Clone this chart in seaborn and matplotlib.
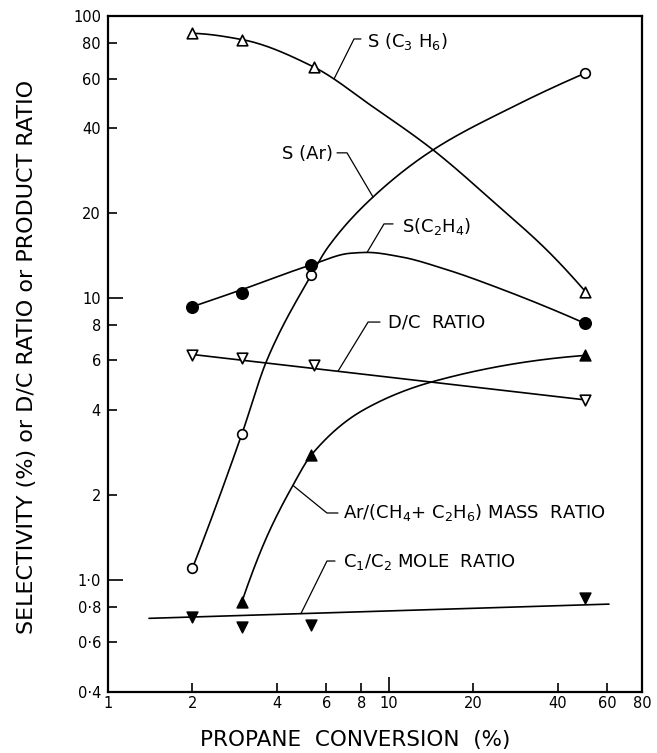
import numpy as np
import pandas as pd
import matplotlib
matplotlib.use("Agg")
import matplotlib.pyplot as plt
import seaborn as sns

# ---- measured points -------------------------------------------------------
c3h6_x = [2.0, 3.0, 5.4, 50.0]
c3h6_y = [86.8, 82.2, 66.1, 10.5]

ar_x = [2.0, 3.0, 5.3, 50.0]
ar_y = [1.10, 3.29, 12.1, 62.6]

c2h4_x = [2.0, 3.0, 5.3, 50.0]
c2h4_y = [9.31, 10.4, 13.1, 8.13]

dc_x = [2.0, 3.0, 5.4, 50.0]
dc_y = [6.27, 6.10, 5.78, 4.34]

arratio_x = [3.0, 5.3, 50.0]
arratio_y = [0.836, 2.77, 6.25]

c1c2_x = [2.0, 3.0, 5.3, 50.0]
c1c2_y = [0.736, 0.682, 0.69, 0.859]

# ---- hand-drawn trend curves (values along each curve) --------------------
c3h6_curve_x = [2.0, 3.0, 5.4, 8.8, 14.4, 24.3, 36.6, 50.0]
c3h6_curve_y = [86.8, 82.5, 66.0, 47.6, 33.5, 21.4, 14.8, 10.6]

ar_curve_x = [2.0, 3.0, 3.68, 5.3, 6.1, 8.8, 14.4, 27.1, 50.0]
ar_curve_y = [1.10, 3.29, 6.0, 12.06, 15.2, 22.8, 33.5, 47.1, 62.6]

c2h4_curve_x = [2.0, 3.0, 5.3, 7.3, 8.4, 11.0, 16.1, 24.3, 50.0]
c2h4_curve_y = [9.31, 10.7, 13.1, 14.4, 14.5, 14.0, 12.6, 10.9, 8.13]

arratio_curve_x = [3.0, 3.68, 4.58, 5.3, 8.12, 14.4, 34.6, 50.0]
arratio_curve_y = [0.836, 1.42, 2.18, 2.77, 4.0, 5.05, 6.02, 6.25]

dc_line_x = [2.0, 50.0]
dc_line_y = [6.3, 4.35]

c1c2_line_x = [1.4, 61.0]
c1c2_line_y = [0.73, 0.82]

# ---- axis ticks ------------------------------------------------------------
x_ticks = [1, 2, 4, 6, 8, 10, 20, 40, 60, 80]
x_ticklabels = ["1", "2", "4", "6", "8", "10", "20", "40", "60", "80"]
y_ticks = [0.4, 0.6, 0.8, 1.0, 2, 4, 6, 8, 10, 20, 40, 60, 80, 100]
y_ticklabels = ["0·4", "0·6", "0·8", "1·0", "2", "4", "6", "8", "10",
                "20", "40", "60", "80", "100"]


def pchip_loglog(xs, ys, n=300):
    """Monotone cubic Hermite curve through (xs, ys) in log-log space."""
    lx = np.log10(np.asarray(xs, float))
    ly = np.log10(np.asarray(ys, float))
    h = np.diff(lx)
    d = np.diff(ly) / h
    m = np.zeros_like(lx)
    for k in range(1, len(lx) - 1):
        if d[k - 1] * d[k] <= 0:
            m[k] = 0.0
        else:
            w1 = 2 * h[k] + h[k - 1]
            w2 = h[k] + 2 * h[k - 1]
            m[k] = (w1 + w2) / (w1 / d[k - 1] + w2 / d[k])

    def end_slope(h0, h1, d0, d1):
        s = ((2 * h0 + h1) * d0 - h0 * d1) / (h0 + h1)
        if np.sign(s) != np.sign(d0):
            s = 0.0
        elif np.sign(d0) != np.sign(d1) and abs(s) > abs(3 * d0):
            s = 3 * d0
        return s

    if len(lx) > 2:
        m[0] = end_slope(h[0], h[1], d[0], d[1])
        m[-1] = end_slope(h[-1], h[-2], d[-1], d[-2])
    else:
        m[:] = d[0]
    t_new = np.linspace(lx[0], lx[-1], n)
    idx = np.clip(np.searchsorted(lx, t_new) - 1, 0, len(lx) - 2)
    hk = h[idx]
    s = (t_new - lx[idx]) / hk
    h00 = 2 * s**3 - 3 * s**2 + 1
    h10 = s**3 - 2 * s**2 + s
    h01 = -2 * s**3 + 3 * s**2
    h11 = s**3 - s**2
    val = h00 * ly[idx] + h10 * hk * m[idx] + h01 * ly[idx + 1] + h11 * hk * m[idx + 1]
    return 10 ** t_new, 10 ** val


def on_curve(cx, cy, x):
    xs, ys = pchip_loglog(cx, cy, 2000)
    return 10 ** np.interp(np.log10(x), np.log10(xs), np.log10(ys))


def on_line(lx, ly, x):
    return 10 ** np.interp(np.log10(x), np.log10(lx), np.log10(ly))


sns.set_style("ticks")
plt.rcParams["font.family"] = ["DejaVu Sans"]
plt.rcParams["mathtext.fontset"] = "dejavusans"
plt.rcParams["text.color"] = "black"
plt.rcParams["axes.labelcolor"] = "black"

fig = plt.figure(figsize=(6.57, 7.53), dpi=100)
ax = fig.add_axes([108 / 657, 61 / 753, 534 / 657, 676 / 753])
ax.set_xscale("log")
ax.set_yscale("log")

line_kw = dict(color="black", linewidth=1.2, estimator=None, sort=False, ax=ax)

for cx, cy in [(c3h6_curve_x, c3h6_curve_y), (ar_curve_x, ar_curve_y),
               (c2h4_curve_x, c2h4_curve_y), (arratio_curve_x, arratio_curve_y)]:
    xs, ys = pchip_loglog(cx, cy)
    sns.lineplot(x=xs, y=ys, **line_kw)

sns.lineplot(x=dc_line_x, y=dc_line_y, **line_kw)
sns.lineplot(x=c1c2_line_x, y=c1c2_line_y, **line_kw)

open_kw = dict(color="white", edgecolor="black", linewidth=1.2, zorder=4, ax=ax)
fill_kw = dict(color="black", edgecolor="black", linewidth=1.0, zorder=4, ax=ax)
sns.scatterplot(x=c3h6_x, y=c3h6_y, marker="^", s=58, **open_kw)
sns.scatterplot(x=ar_x, y=ar_y, marker="o", s=48, **open_kw)
sns.scatterplot(x=c2h4_x, y=c2h4_y, marker="o", s=70, **fill_kw)
sns.scatterplot(x=dc_x, y=dc_y, marker="v", s=58, **open_kw)
sns.scatterplot(x=arratio_x, y=arratio_y, marker="^", s=62, **fill_kw)
sns.scatterplot(x=c1c2_x, y=c1c2_y, marker="v", s=62, **fill_kw)

ax.set_xlim(1, 80)
ax.set_ylim(0.4, 100)
ax.set_xticks(x_ticks, labels=x_ticklabels)
ax.set_yticks(y_ticks, labels=y_ticklabels)
ax.minorticks_off()
ax.tick_params(axis="both", direction="in", length=6.5, width=1.2,
               labelsize=10.5, colors="black")
ax.tick_params(axis="x", pad=3)
ax.tick_params(axis="y", pad=5)
for tk, v in zip(ax.xaxis.get_major_ticks(), x_ticks):
    if v == 10:
        tk.tick1line.set_markersize(11)
for tk, v in zip(ax.yaxis.get_major_ticks(), y_ticks):
    if v in (1.0, 10):
        tk.tick1line.set_markersize(11)
for sp in ax.spines.values():
    sp.set_linewidth(1.6)
    sp.set_color("black")

# ---- labels with leader lines ---------------------------------------------
label_fs = 13
leader_kw = dict(color="black", linewidth=0.9)


def leader(y_touch_fn, x_touch, corner, dash_end, text, text_xy, ha="left"):
    y_touch = y_touch_fn(x_touch)
    ax.plot([x_touch, corner[0], dash_end], [y_touch, corner[1], corner[1]],
            **leader_kw)
    ax.text(text_xy[0], text_xy[1], text, ha=ha, va="center", fontsize=label_fs,
            color="black")


leader(lambda x: on_curve(c3h6_curve_x, c3h6_curve_y, x), 6.39,
       (7.53, 82.9), 7.97, "S (C$_3$ H$_6$)", (8.38, 81.5))
leader(lambda x: on_curve(ar_curve_x, ar_curve_y, x), 8.8,
       (7.11, 32.7), 6.55, "S (Ar)", (6.34, 32.4), ha="right")
leader(lambda x: on_curve(c2h4_curve_x, c2h4_curve_y, x), 8.38,
       (9.63, 18.3), 10.37, "S(C$_2$H$_4$)", (11.16, 17.9))
leader(lambda x: on_line(dc_line_x, dc_line_y, x),
       6.6, (8.45, 8.21), 9.32, "D/C  RATIO", (9.95, 8.21))
leader(lambda x: on_curve(arratio_curve_x, arratio_curve_y, x), 4.56,
       (6.03, 1.726), 6.6, "Ar/(CH$_4$+ C$_2$H$_6$) MASS  RATIO", (6.88, 1.726))
leader(lambda x: on_line(c1c2_line_x, c1c2_line_y, x),
       4.87, (6.03, 1.166), 6.44, "C$_1$/C$_2$ MOLE  RATIO", (6.88, 1.156))

fig.text(355 / 657, 1 - 740 / 753, "PROPANE  CONVERSION  (%)", ha="center",
         va="center", fontsize=15.5, color="black")
fig.text(27 / 657, 1 - 357 / 753, "SELECTIVITY (%) or D/C RATIO or PRODUCT RATIO",
         ha="center", va="center", rotation=90, fontsize=16, color="black")

fig.savefig("out.png", dpi=100)
